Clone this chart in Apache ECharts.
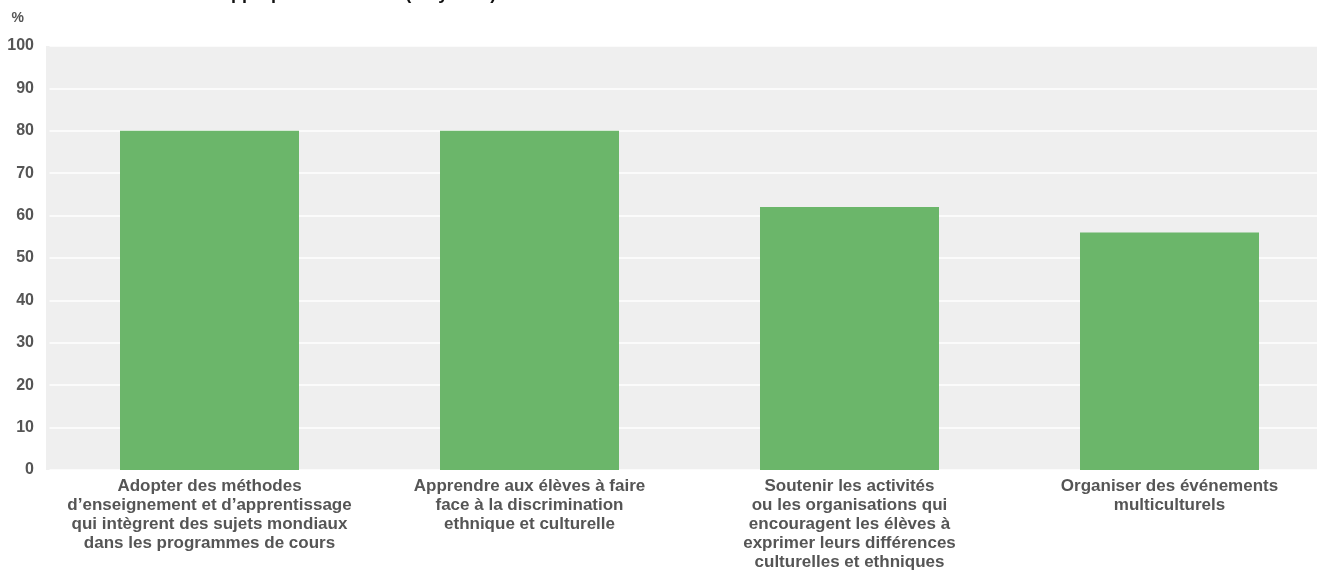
<!DOCTYPE html>
<html>
<head>
<meta charset="utf-8">
<title>Pratiques scolaires</title>
<script src="https://cdn.jsdelivr.net/npm/echarts@6/dist/echarts.min.js"></script>
<style>
  html, body { margin: 0; padding: 0; background: #ffffff; }
  #chart { width: 1317px; height: 579px; }
</style>
</head>
<body>
<div id="chart"></div>
<script>
// Categories (line breaks as printed under each bar)
const categories = [
  "Adopter des méthodes\nd’enseignement et d’apprentissage\nqui intègrent des sujets mondiaux\ndans les programmes de cours",
  "Apprendre aux élèves à faire\nface à la discrimination\nethnique et culturelle",
  "Soutenir les activités\nou les organisations qui\nencouragent les élèves à\nexprimer leurs différences\nculturelles et ethniques",
  "Organiser des événements\nmulticulturels"
];
// Share of respondents, in %
const values = [80, 80, 62, 56];
// Value axis ticks
const yTicks = [0, 10, 20, 30, 40, 50, 60, 70, 80, 90, 100];
const titleText = "Actions considérées comme appropriées à l’école (moyenne)";

const FONT = "'Liberation Sans', Arial, Helvetica, sans-serif";
const chart = echarts.init(document.getElementById('chart'), null, { renderer: 'canvas' });

chart.setOption({
  animation: false,
  backgroundColor: '#ffffff',
  textStyle: { fontFamily: FONT },
  graphic: [
    {
      type: 'rect',
      z: -10,
      shape: { x: 46, y: 46, width: 1271, height: 424 },
      style: { fill: '#efefef' },
      silent: true
    },
    {
      // headline sits mostly above the top edge of the canvas
      type: 'text',
      x: -28,
      y: -6,
      style: {
        text: titleText,
        font: 'bold 18px ' + FONT,
        fill: '#111111',
        verticalAlign: 'middle'
      },
      silent: true
    },
    {
      type: 'text',
      x: 24,
      y: 18,
      style: {
        text: '%',
        font: 'bold 14px ' + FONT,
        fill: '#555555',
        align: 'right',
        verticalAlign: 'middle'
      },
      silent: true
    }
  ],
  grid: {
    left: 49.5,
    top: 46,
    width: 1280,
    bottom: 109,
    containLabel: false,
    outerBoundsMode: 'none'
  },
  xAxis: {
    type: 'category',
    data: categories,
    axisLine: { show: false },
    axisTick: { show: false },
    axisLabel: {
      interval: 0,
      margin: 7,
      color: '#555555',
      fontFamily: FONT,
      fontWeight: 'bold',
      fontSize: 17,
      lineHeight: 19,
      align: 'center'
    }
  },
  yAxis: {
    type: 'value',
    min: yTicks[0],
    max: yTicks[yTicks.length - 1],
    interval: yTicks[1] - yTicks[0],
    axisLine: { show: false },
    axisTick: { show: false },
    axisLabel: {
      margin: 15.5,
      color: '#555555',
      fontFamily: FONT,
      fontWeight: 'bold',
      fontSize: 16
    },
    splitLine: {
      show: true,
      lineStyle: { color: '#ffffff', width: 1.5 }
    }
  },
  series: [{
    type: 'bar',
    data: values,
    barWidth: 179,
    itemStyle: { color: '#6bb66a' },
    z: 2
  }]
});
</script>
</body>
</html>
